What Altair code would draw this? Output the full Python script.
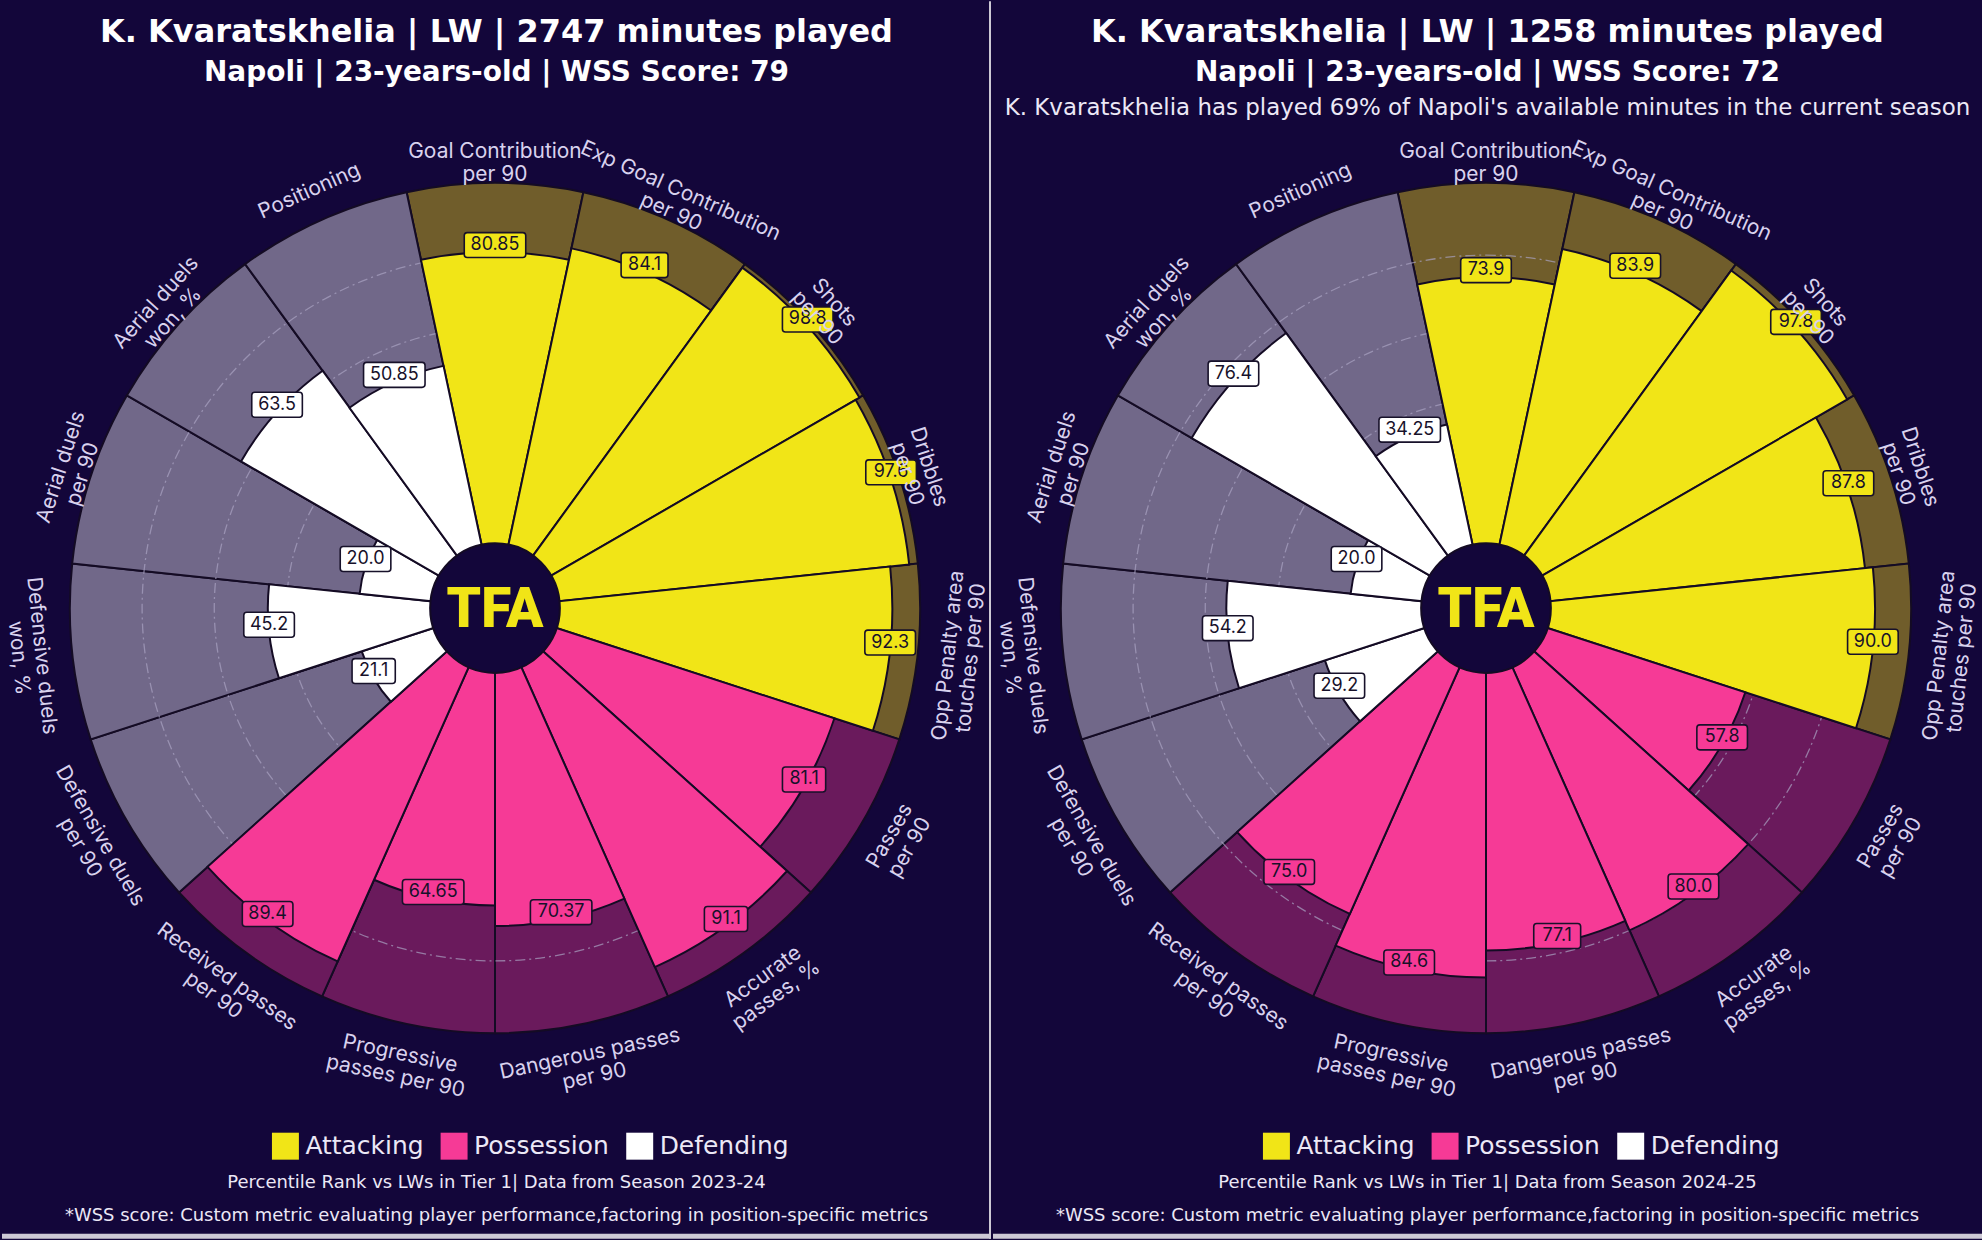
import math
import altair as alt
import pandas as pd

# ---------------- data ----------------
metrics = [
    "Goal Contribution\nper 90",
    "Exp Goal Contribution\nper 90",
    "Shots\nper 90",
    "Dribbles\nper 90",
    "Opp Penalty area\ntouches per 90",
    "Passes\nper 90",
    "Accurate\npasses, %",
    "Dangerous passes\nper 90",
    "Progressive\npasses per 90",
    "Received passes\nper 90",
    "Defensive duels\nper 90",
    "Defensive duels\nwon, %",
    "Aerial duels\nper 90",
    "Aerial duels\nwon, %",
    "Positioning",
]
groups = ["Attacking"] * 5 + ["Possession"] * 5 + ["Defending"] * 5
group_order = ["Attacking", "Possession", "Defending"]

values_2324 = [80.85, 84.1, 98.8, 97.6, 92.3, 81.1, 91.1, 70.37, 64.65, 89.4,
               21.1, 45.2, 20.0, 63.5, 50.85]
values_2425 = [73.9, 83.9, 97.8, 87.8, 90.0, 57.8, 80.0, 77.1, 84.6, 75.0,
               29.2, 54.2, 20.0, 76.4, 34.25]

grid_levels = [20, 40, 60, 80]

title_2324 = "K. Kvaratskhelia | LW | 2747 minutes played"
sub_2324 = "Napoli | 23-years-old | WSS Score: 79"
title_2425 = "K. Kvaratskhelia | LW | 1258 minutes played"
sub_2425 = "Napoli | 23-years-old | WSS Score: 72"
note_2425 = "K. Kvaratskhelia has played 69% of Napoli's available minutes in the current season"
foot_2324 = "Percentile Rank vs LWs in Tier 1| Data from Season 2023-24"
foot_2425 = "Percentile Rank vs LWs in Tier 1| Data from Season 2024-25"
foot_wss = "*WSS score: Custom metric evaluating player performance,factoring in position-specific metrics"

# ---------------- style ----------------
BG = "#13063a"
LINE = "#140b24"
DARK = "#17112a"
TXT = "#ece8f6"
LBL = "#d9d2ee"
GRID = "#aaa3c2"
EDGE = "#cdc9d5"
value_colors = ["#f1e517", "#f63a96", "#ffffff"]
bg_colors = {"Attacking": "#705d2b", "Possession": "#6a1a5c", "Defending": "#716889"}

PW, PH = 991, 1240          # panel size
CX, CY = 494, 608           # pizza centre
R0, K = 64, 3.62            # inner radius, px per percentile point
RMAX = R0 + 100 * K
OFF = R0 / K
UMAX = RMAX / K
LR = 457 / K                # label radius in units
TX = 495.5


def box_width(s):
    w = 0
    for ch in s:
        if ch == "1":
            w += 7.2
        elif ch == ".":
            w += 5.0
        else:
            w += 10.9
    return w + 13


def panel(values, title, sub, note, foot):
    angles = [i * 24 for i in range(15)]
    df = pd.DataFrame({
        "idx": list(range(15)),
        "metric": metrics,
        "group": groups,
        "value": values,
        "label": [f"{v}" for v in values],
    })
    df["bw"] = [box_width(s) for s in df["label"]]
    df["bgcolor"] = [bg_colors[g] for g in groups]
    df["rot"] = [(a if (a <= 90 or a >= 270) else a - 180) % 360 for a in angles]

    base = alt.Chart(df).transform_calculate(
        t0="datum.idx - 0.5",
        t1="datum.idx + 0.5",
        full="100",
        ang="datum.idx * 2 * PI / 15",
        ux=f"(datum.value + {OFF}) * sin(datum.ang)",
        uy=f"(datum.value + {OFF}) * cos(datum.ang)",
        bx0=f"datum.ux - datum.bw / 2 / {K}",
        bx1=f"datum.ux + datum.bw / 2 / {K}",
        by0=f"datum.uy - 12.5 / {K}",
        by1=f"datum.uy + 12.5 / {K}",
        lx=f"{LR} * sin(datum.ang)",
        ly=f"{LR} * cos(datum.ang)",
    )

    tscale = alt.Scale(domain=[0, 15], range=[0, 2 * math.pi], zero=False, nice=False)
    rscale = alt.Scale(type="linear", domain=[0, 100], range=[R0, RMAX], zero=False, nice=False)
    xs = alt.Scale(domain=[-UMAX, UMAX], range=[CX - RMAX, CX + RMAX], zero=False, nice=False)
    ys = alt.Scale(domain=[-UMAX, UMAX], range=[CY + RMAX, CY - RMAX], zero=False, nice=False)

    bg_arcs = base.mark_arc(stroke=LINE, strokeWidth=2).encode(
        theta=alt.Theta("t0:Q", scale=tscale, stack=False),
        theta2="t1:Q",
        radius=alt.Radius("full:Q", scale=rscale, stack=False),
        radius2=alt.value(R0),
        fill=alt.Fill("bgcolor:N", scale=None),
        x=alt.value(CX), y=alt.value(CY),
    )

    grid = alt.Chart(pd.DataFrame({"g": grid_levels})).mark_arc(
        filled=False, stroke=GRID, strokeWidth=1.3, strokeDash=[10, 4, 2, 4], opacity=0.7
    ).encode(
        theta=alt.value(0), theta2=alt.value(2 * math.pi),
        radius=alt.Radius("g:Q", scale=rscale, stack=False),
        radius2=alt.value(0),
        x=alt.value(CX), y=alt.value(CY),
    )

    color = alt.Color(
        "group:N",
        scale=alt.Scale(domain=group_order, range=value_colors),
        legend=alt.Legend(
            orient="none", legendX=270, legendY=1133, direction="horizontal",
            title=None, symbolType="square", symbolSize=730, symbolStrokeWidth=0,
            symbolOpacity=1, labelFont="DejaVu Sans", labelFontSize=25,
            labelColor=TXT, labelOffset=6, columnPadding=16, padding=0,
        ),
    )

    val_arcs = base.mark_arc(stroke=LINE, strokeWidth=2).encode(
        theta=alt.Theta("t0:Q", scale=tscale, stack=False),
        theta2="t1:Q",
        radius=alt.Radius("value:Q", scale=rscale, stack=False),
        radius2=alt.value(R0),
        color=color,
        x=alt.value(CX), y=alt.value(CY),
    )

    hub = alt.Chart(pd.DataFrame({"t": ["TFA"]})).mark_arc(
        fill=BG, stroke=LINE, strokeWidth=2
    ).encode(
        theta=alt.value(0), theta2=alt.value(2 * math.pi),
        radius=alt.value(R0 + 1), radius2=alt.value(0),
        x=alt.value(CX), y=alt.value(CY),
    )
    hub_text = alt.Chart(pd.DataFrame({"t": ["TFA"]})).mark_text(
        font="Roboto", fontWeight=900, fontSize=55, color="#f1e517"
    ).encode(text="t:N", x=alt.value(CX), y=alt.value(CY + 2))

    boxes = base.mark_rect(
        cornerRadius=3, stroke=DARK, strokeWidth=1.6, yOffset=-7, y2Offset=-7
    ).encode(
        x=alt.X("bx0:Q", scale=xs, axis=None),
        x2="bx1:Q",
        y=alt.Y("by0:Q", scale=ys, axis=None),
        y2="by1:Q",
        color=color,
    )
    val_text = base.mark_text(
        font="Inter", fontSize=18, color=DARK, dy=-7
    ).encode(
        x=alt.X("ux:Q", scale=xs, axis=None),
        y=alt.Y("uy:Q", scale=ys, axis=None),
        text="label:N",
    )
    cat_text = base.mark_text(
        font="Inter", fontSize=21, color=LBL, lineBreak="\n", lineHeight=23
    ).encode(
        x=alt.X("lx:Q", scale=xs, axis=None),
        y=alt.Y("ly:Q", scale=ys, axis=None),
        text="metric:N",
        angle=alt.Angle("rot:Q", scale=None),
    )

    def tline(txt, y, size, weight="normal", color=TXT):
        return alt.Chart(pd.DataFrame({"t": [txt]})).mark_text(
            font="DejaVu Sans", fontSize=size, fontWeight=weight, color=color
        ).encode(text="t:N", x=alt.value(TX), y=alt.value(y))

    texts = [
        tline(title, 31, 32, "bold", "#ffffff"),
        tline(sub, 72, 28, "bold", "#ffffff"),
        tline(foot, 1184, 18),
        tline(foot_wss, 1217, 18),
    ]
    if note:
        texts.append(tline(note, 107, 23))

    bottom = alt.Chart(pd.DataFrame({"s": [0]})).mark_rect(color=EDGE).encode(
        x=alt.value(0), x2=alt.value(PW), y=alt.value(PH - 5), y2=alt.value(PH)
    )

    return alt.layer(bg_arcs, grid, val_arcs, hub, hub_text, boxes, val_text,
                     cat_text, *texts, bottom).properties(width=PW, height=PH)


left = panel(values_2324, title_2324, sub_2324, None, foot_2324)
right = panel(values_2425, title_2425, sub_2425, note_2425, foot_2425)

sep = alt.Chart(pd.DataFrame({"s": [0]})).mark_rect(color=EDGE).encode(
    x=alt.value(989), x2=alt.value(991), y=alt.value(0), y2=alt.value(PH)
)
left = alt.layer(left, sep)

chart = alt.hconcat(left, right, spacing=0).resolve_scale(
    color="independent"
).resolve_legend(color="independent").properties(
    padding=0, background=BG
).configure_view(stroke=None)

chart.save("out.html", embed_options={"renderer": "svg", "actions": False})
